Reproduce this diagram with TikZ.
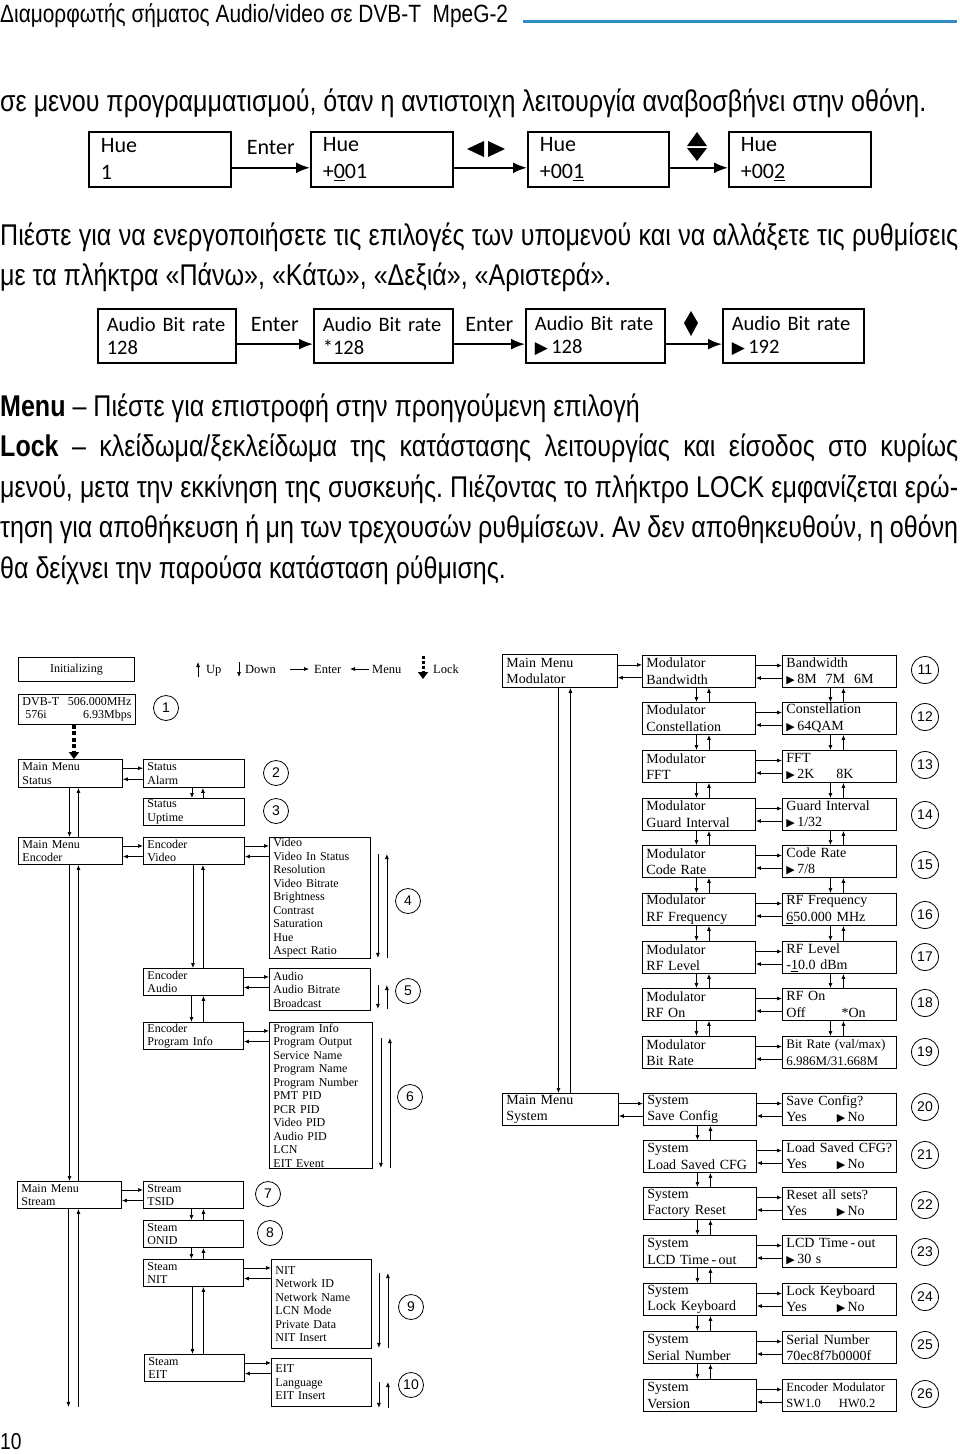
\documentclass[tikz,border=0pt]{standalone}
\usepackage{fontspec}
\setmainfont{Liberation Serif}
\newfontfamily\condfont{Liberation Sans}[FakeStretch=0.835]
\newfontfamily\lcdfont{Carlito}
\newfontfamily\sansfont{Liberation Sans}
\newfontfamily\symfont{DejaVu Sans}
\usetikzlibrary{arrows.meta,calc}
\definecolor{headblue}{RGB}{48,140,196}
\frenchspacing
\newcommand{\tri}{{\symfont\fontsize{11}{11}\selectfont▶}}
\newcommand{\bigtri}{{\symfont\fontsize{17}{17}\selectfont▶}}
\newcommand{\lfont}{\fontsize{12}{13.5}\selectfont}
\newcommand{\rfont}{\fontsize{14}{16.5}\selectfont}
\newcommand{\hpair}[2]{%
  \coordinate (p) at ($(#1.north east)!.32!(#1.south east)$);
  \coordinate (q) at ($(#1.north east)!.7!(#1.south east)$);
  \draw[arr] (p) -- (p -| #2.west);
  \draw[arr] (q -| #2.west) -- (q);}
\newcommand{\vpair}[4]{%
  \draw[arr] ([xshift=#3]#1.south) -- ([xshift=#3]#1.south |- #2.north);
  \draw[arr] ([xshift=#4]#1.south |- #2.north) -- ([xshift=#4]#1.south);}
\newcommand{\sidepair}[4]{%
  \draw[arr] ([xshift=#2,yshift=-#3]#1.north east) -- ([xshift=#2,yshift=#4]#1.south east);
  \draw[arr] ([xshift=#2+9pt,yshift=#4]#1.south east) -- ([xshift=#2+9pt,yshift=-#3]#1.north east);}

\begin{document}
\begin{tikzpicture}[x=1pt,y=-1pt,
  arr/.style={-{Latex[length=5pt,width=4pt]},line width=0.7pt},
  bigarr/.style={-{Latex[length=14pt,width=11pt]},line width=2pt},
  lockarr/.style={-{Triangle[length=7pt,width=10pt]},line width=3.5pt,dash pattern=on 4pt off 2.5pt},
  lbox/.style={draw,line width=0.9pt,anchor=north west,inner xsep=4pt,inner ysep=0pt,align=left,font=\lfont,text width=#1},
  rbox/.style={draw,line width=0.9pt,anchor=north west,inner xsep=4pt,inner ysep=0pt,align=left,font=\rfont,text width=#1,minimum height=32pt},
  numc/.style={draw,circle,line width=0.8pt,minimum size=#1,inner sep=0pt,font=\sansfont\fontsize{14}{14}\selectfont},
  lgd/.style={anchor=base west,inner sep=0pt,font=\fontsize{12.5}{12.5}\selectfont},
  hue/.style={draw,line width=1.6pt,anchor=north west,inner xsep=12pt,inner ysep=0pt,align=left,text width=#1,minimum height=55pt,font=\lcdfont\fontsize{22}{27}\selectfont},
  abr/.style={draw,line width=1.6pt,anchor=north west,inner xsep=9pt,inner ysep=0pt,align=left,text width=#1,minimum height=54pt,font=\lcdfont\fontsize{20.5}{23}\selectfont},
  keylbl/.style={inner sep=0pt,font=\lcdfont\fontsize{22}{22}\selectfont},
  body/.style={anchor=base west,inner sep=0pt,font=\condfont\fontsize{30}{40}\selectfont}]
\useasboundingbox (0,0) rectangle (960,1454);

\node[anchor=base west,inner sep=0pt,font=\condfont\fontsize{25}{25}\selectfont] (header) at (0,22) {Διαμορφωτής σήματος Audio/video σε DVB-T\ \ MpeG-2};
\draw[headblue,line width=3pt] (523,21) -- (957,21);

\node[body] (intro) at (0,111) {σε μενου προγραμματισμού, όταν η αντιστοιχη λειτουργία αναβοσβήνει στην οθόνη.};

\node[hue=118pt] (hueA) at (88,131) {Hue\\1};
\node[hue=118pt] (hueB) at (310,131) {Hue\\+\underline{0}01};
\node[hue=117pt] (hueC) at (527,131) {Hue\\+00\underline{1}};
\node[hue=118pt] (hueD) at (728,131) {Hue\\+00\underline{2}};
\coordinate (ha) at ($(hueA.north east)!.65!(hueA.south east)$);
\coordinate (hb) at ($(hueB.north east)!.65!(hueB.south east)$);
\coordinate (hc) at ($(hueC.north east)!.65!(hueC.south east)$);
\draw[bigarr] (ha) -- (ha -| hueB.west) node[keylbl,midway,above=12pt] (enterA) {Enter};
\draw[bigarr] (hb) -- (hb -| hueC.west);
\draw[bigarr] (hc) -- (hc -| hueD.west);
\fill (467,149) -- (484,141) -- (484,157) -- cycle;
\fill (488,141) -- (505,149) -- (488,157) -- cycle;
\fill (697,132) -- (707,146) -- (687,146) -- cycle;
\fill (687,148) -- (707,148) -- (697,161) -- cycle;

\node[body] (enable1) at (0,245) {\makebox[958pt][s]{Πιέστε για να ενεργοποιήσετε τις επιλογές των υπομενού και να αλλάξετε τις ρυθμίσεις}};
\node[body] (enable2) at (0,285) {με τα πλήκτρα «Πάνω», «Κάτω», «Δεξιά», «Αριστερά».};

\node[abr=120pt] (abrA) at (97,308) {Audio Bit rate\\128};
\node[abr=121pt] (abrB) at (313,308) {Audio Bit rate\\{*}128};
\node[abr=121pt] (abrC) at (525,308) {Audio Bit rate\\\bigtri\,128};
\node[abr=123pt] (abrD) at (722,308) {Audio Bit rate\\\bigtri\,192};
\coordinate (aa) at ($(abrA.north east)!.65!(abrA.south east)$);
\coordinate (ab) at ($(abrB.north east)!.65!(abrB.south east)$);
\coordinate (ac) at ($(abrC.north east)!.65!(abrC.south east)$);
\draw[bigarr] (aa) -- (aa -| abrB.west) node[keylbl,midway,above=11pt] (enterB) {Enter};
\draw[bigarr] (ab) -- (ab -| abrC.west) node[keylbl,midway,above=11pt] (enterC) {Enter};
\draw[bigarr] (ac) -- (ac -| abrD.west);
\fill (691,311) -- (698,323) -- (691,336) -- (684,323) -- cycle;

\node[body] (menuln) at (0,416) {\textbf{Menu} – Πιέστε για επιστροφή στην προηγούμενη επιλογή};
\node[body] (lock1) at (0,456.5) {\makebox[958pt][s]{\textbf{Lock} – κλείδωμα/ξεκλείδωμα της κατάστασης λειτουργίας και είσοδος στο κυρίως}};
\node[body] (lock2) at (0,497) {\makebox[958pt][s]{μενού, μετα την εκκίνηση της συσκευής. Πιέζοντας το πλήκτρο LOCK εμφανίζεται ερώ-}};
\node[body] (lock3) at (0,537.5) {\makebox[958pt][s]{τηση για αποθήκευση ή μη των τρεχουσών ρυθμίσεων. Αν δεν αποθηκευθούν, η οθόνη}};
\node[body] (lock4) at (0,578) {θα δείχνει την παρούσα κατάσταση ρύθμισης.};

\node[lbox=108pt,minimum height=24pt,align=center] (init) at (18,657) {Initializing};
\node[lgd] (lgUp) at (206,673) {Up};
\node[lgd] (lgDown) at (245,673) {Down};
\node[lgd] (lgEnter) at (314,673) {Enter};
\node[lgd] (lgMenu) at (372,673) {Menu};
\node[lgd] (lgLock) at (433,673) {Lock};
\draw[arr] ($(lgUp.base west)+(-8,4)$) -- ($(lgUp.base west)+(-8,-11)$);
\draw[arr] ($(lgDown.base west)+(-6,-11)$) -- ($(lgDown.base west)+(-6,4)$);
\draw[arr] ($(lgEnter.base west)+(-24,-4)$) -- ($(lgEnter.base west)+(-5,-4)$);
\draw[arr] ($(lgMenu.base west)+(-3,-4)$) -- ($(lgMenu.base west)+(-22,-4)$);
\draw[lockarr,line width=3pt,dash pattern=on 3pt off 2pt] ($(lgLock.base west)+(-10,-17)$) -- ($(lgLock.base west)+(-10,6)$);

\node[lbox=109pt,minimum height=30pt] (dvb) at (18,694) {DVB-T\hfill506.000MHz\\\hspace*{3pt}576i\hfill6.93Mbps};
\node[numc=25pt] (c1) at (166,708) {1};
\node[lbox=96pt,minimum height=28pt] (mmStatus) at (18,759) {Main Menu\\Status};
\node[lbox=93pt,minimum height=28pt] (stAlarm) at (143,759) {Status\\Alarm};
\node[lbox=93pt,minimum height=27pt] (stUptime) at (143,798) {Status\\Uptime};
\node[numc=25pt] (c2) at (276,773) {2};
\node[numc=25pt] (c3) at (276,811) {3};
\draw[lockarr] ([xshift=-3pt]dvb.south) -- ([xshift=-3pt]dvb.south |- mmStatus.north);
\hpair{mmStatus}{stAlarm}
\vpair{stAlarm}{stUptime}{-2pt}{9pt}

\node[lbox=96pt,minimum height=27pt] (mmEncoder) at (18,837) {Main Menu\\Encoder};
\node[lbox=93pt,minimum height=27pt] (encVideo) at (143,837) {Encoder\\Video};
\node[lbox=93pt,minimum height=121pt] (vidList) at (269,837) {Video\\Video In Status\\Resolution\\Video Bitrate\\Brightness\\Contrast\\Saturation\\Hue\\Aspect Ratio};
\node[lbox=92pt,minimum height=27pt] (encAudio) at (143,968) {Encoder\\Audio};
\node[lbox=93pt,minimum height=42pt] (audList) at (269,968) {Audio\\Audio Bitrate\\Broadcast};
\node[lbox=92pt,minimum height=27pt] (encProg) at (143,1022) {Encoder\\Program Info};
\node[lbox=95pt,minimum height=146pt] (progList) at (269,1022) {Program Info\\Program Output\\Service Name\\Program Name\\Program Number\\PMT PID\\PCR PID\\Video PID\\Audio PID\\LCN\\EIT Event};
\node[numc=25pt] (c4) at (408,901) {4};
\node[numc=25pt] (c5) at (408,991) {5};
\node[numc=25pt] (c6) at (410,1097) {6};
\vpair{mmStatus}{mmEncoder}{-1pt}{8pt}
\hpair{mmEncoder}{encVideo}
\hpair{encVideo}{vidList}
\vpair{encVideo}{encAudio}{-1pt}{9pt}
\hpair{encAudio}{audList}
\vpair{encAudio}{encProg}{-2pt}{10pt}
\hpair{encProg}{progList}
\sidepair{vidList}{7pt}{17pt}{1pt}
\sidepair{audList}{7pt}{17pt}{2pt}
\sidepair{progList}{8pt}{16pt}{1pt}

\node[lbox=96pt,minimum height=27pt] (mmStream) at (17,1181) {Main Menu\\Stream};
\node[lbox=92pt,minimum height=27pt] (strTsid) at (143,1181) {Stream\\TSID};
\node[lbox=92pt,minimum height=27pt] (strOnid) at (143,1220) {Steam\\ONID};
\node[lbox=92pt,minimum height=27pt] (strNit) at (143,1259) {Steam\\NIT};
\node[lbox=92pt,minimum height=89pt] (nitList) at (271,1259) {NIT\\Network ID\\Network Name\\LCN Mode\\Private Data\\NIT Insert};
\node[lbox=92pt,minimum height=27pt] (strEit) at (144,1354) {Steam\\EIT};
\node[lbox=92pt,minimum height=48pt] (eitList) at (271,1358) {EIT\\Language\\EIT Insert};
\node[numc=25pt] (c7) at (268,1194) {7};
\node[numc=25pt] (c8) at (270,1233) {8};
\node[numc=25pt] (c9) at (411,1307) {9};
\node[numc=25pt] (c10) at (411,1385) {10};
\vpair{mmEncoder}{mmStream}{-1pt}{8pt}
\hpair{mmStream}{strTsid}
\vpair{strTsid}{strOnid}{-2pt}{10pt}
\vpair{strOnid}{strNit}{-2pt}{10pt}
\hpair{strNit}{nitList}
\vpair{strNit}{strEit}{-1pt}{10pt}
\hpair{strEit}{eitList}
\sidepair{nitList}{7pt}{14pt}{1pt}
\sidepair{eitList}{7pt}{24pt}{-1pt}
\coordinate (streamEnd) at ($(mmStream.south)+(0,198)$);
\draw[arr] ([xshift=-1pt]mmStream.south) -- ([xshift=-1pt]streamEnd);
\draw[arr] ([xshift=9pt]streamEnd) -- ([xshift=9pt]mmStream.south);

\node[rbox=107pt,minimum height=33pt] (mmMod) at (502,654) {Main Menu\\Modulator};
\node[rbox=105pt] (mod1) at (642,655) {Modulator\\Bandwidth};
\node[rbox=105pt] (mod2) at (642,702) {Modulator\\Constellation};
\node[rbox=105pt] (mod3) at (642,750) {Modulator\\FFT};
\node[rbox=105pt] (mod4) at (642,798) {Modulator\\Guard Interval};
\node[rbox=105pt] (mod5) at (642,845) {Modulator\\Code Rate};
\node[rbox=105pt] (mod6) at (642,893) {Modulator\\RF Frequency};
\node[rbox=105pt] (mod7) at (642,941) {Modulator\\RF Level};
\node[rbox=105pt] (mod8) at (642,988) {Modulator\\RF On};
\node[rbox=105pt] (mod9) at (642,1036) {Modulator\\Bit Rate};
\node[rbox=106pt] (val1) at (782,655) {Bandwidth\\\tri\,8M\hspace{9pt}7M\hspace{9pt}6M};
\node[rbox=106pt] (val2) at (782,702) {Constellation\\\tri\,64QAM};
\node[rbox=106pt] (val3) at (782,750) {FFT\\\tri\,2K\hspace{22pt}8K};
\node[rbox=106pt] (val4) at (782,798) {Guard Interval\\\tri\,1/32};
\node[rbox=106pt] (val5) at (782,845) {Code Rate\\\tri\,7/8};
\node[rbox=106pt] (val6) at (782,893) {RF Frequency\\\underline{6}50.000 MHz};
\node[rbox=106pt] (val7) at (782,941) {RF Level\\-\underline{1}0.0 dBm};
\node[rbox=106pt] (val8) at (782,988) {RF On\\Off\hspace{36pt}{*}On};
\node[rbox=106pt,font=\fontsize{13}{16.5}\selectfont] (val9) at (782,1036) {Bit Rate (val/max)\\6.986M/31.668M};
\foreach \i/\y in {11/670,12/717,13/765,14/815,15/865,16/915,17/957,18/1003,19/1052}
  \node[numc=27pt] (c\i) at (925,\y) {\i};
\hpair{mmMod}{mod1}
\foreach \i in {1,...,9} {\hpair{mod\i}{val\i}}
\foreach \i [count=\j from 2] in {1,...,8} {\vpair{mod\i}{mod\j}{-2.5pt}{10pt}\vpair{val\i}{val\j}{-9pt}{4pt}}

\node[rbox=108pt] (mmSys) at (502,1093) {Main Menu\\System};
\node[rbox=105pt] (sys1) at (643,1093) {System\\Save Config};
\node[rbox=105pt] (sys2) at (643,1140) {System\\Load Saved CFG};
\node[rbox=105pt] (sys3) at (643,1187) {System\\Factory Reset};
\node[rbox=105pt] (sys4) at (643,1235) {System\\LCD Time\,-\,out};
\node[rbox=105pt] (sys5) at (643,1283) {System\\Lock Keyboard};
\node[rbox=105pt] (sys6) at (643,1331) {System\\Serial Number};
\node[rbox=105pt] (sys7) at (643,1379) {System\\Version};
\node[rbox=106pt] (sysv1) at (782,1093) {Save Config?\\Yes\hspace{30pt}\tri\,No};
\node[rbox=106pt] (sysv2) at (782,1140) {Load Saved CFG?\\Yes\hspace{30pt}\tri\,No};
\node[rbox=106pt] (sysv3) at (782,1187) {Reset all sets?\\Yes\hspace{30pt}\tri\,No};
\node[rbox=106pt] (sysv4) at (782,1235) {LCD Time\,-\,out\\\tri\,30 s};
\node[rbox=106pt] (sysv5) at (782,1283) {Lock Keyboard\\Yes\hspace{30pt}\tri\,No};
\node[rbox=106pt] (sysv6) at (782,1331) {Serial Number\\70ec8f7b0000f};
\node[rbox=106pt,font=\fontsize{12.5}{16.5}\selectfont] (sysv7) at (782,1379) {Encoder Modulator\\SW1.0\hspace{18pt}HW0.2};
\foreach \i/\y in {20/1107,21/1155,22/1205,23/1252,24/1297,25/1345,26/1394}
  \node[numc=27pt] (c\i) at (925,\y) {\i};
\vpair{mmMod}{mmSys}{-1.5pt}{10.5pt}
\hpair{mmSys}{sys1}
\foreach \i in {1,...,7} {\hpair{sys\i}{sysv\i}}
\foreach \i [count=\j from 2] in {1,...,6} {\vpair{sys\i}{sys\j}{-2.5pt}{10.5pt}}

\node[anchor=base west,inner sep=0pt,font=\condfont\fontsize{23}{23}\selectfont] (pagenum) at (0,1449) {10};
\end{tikzpicture}
\end{document}
